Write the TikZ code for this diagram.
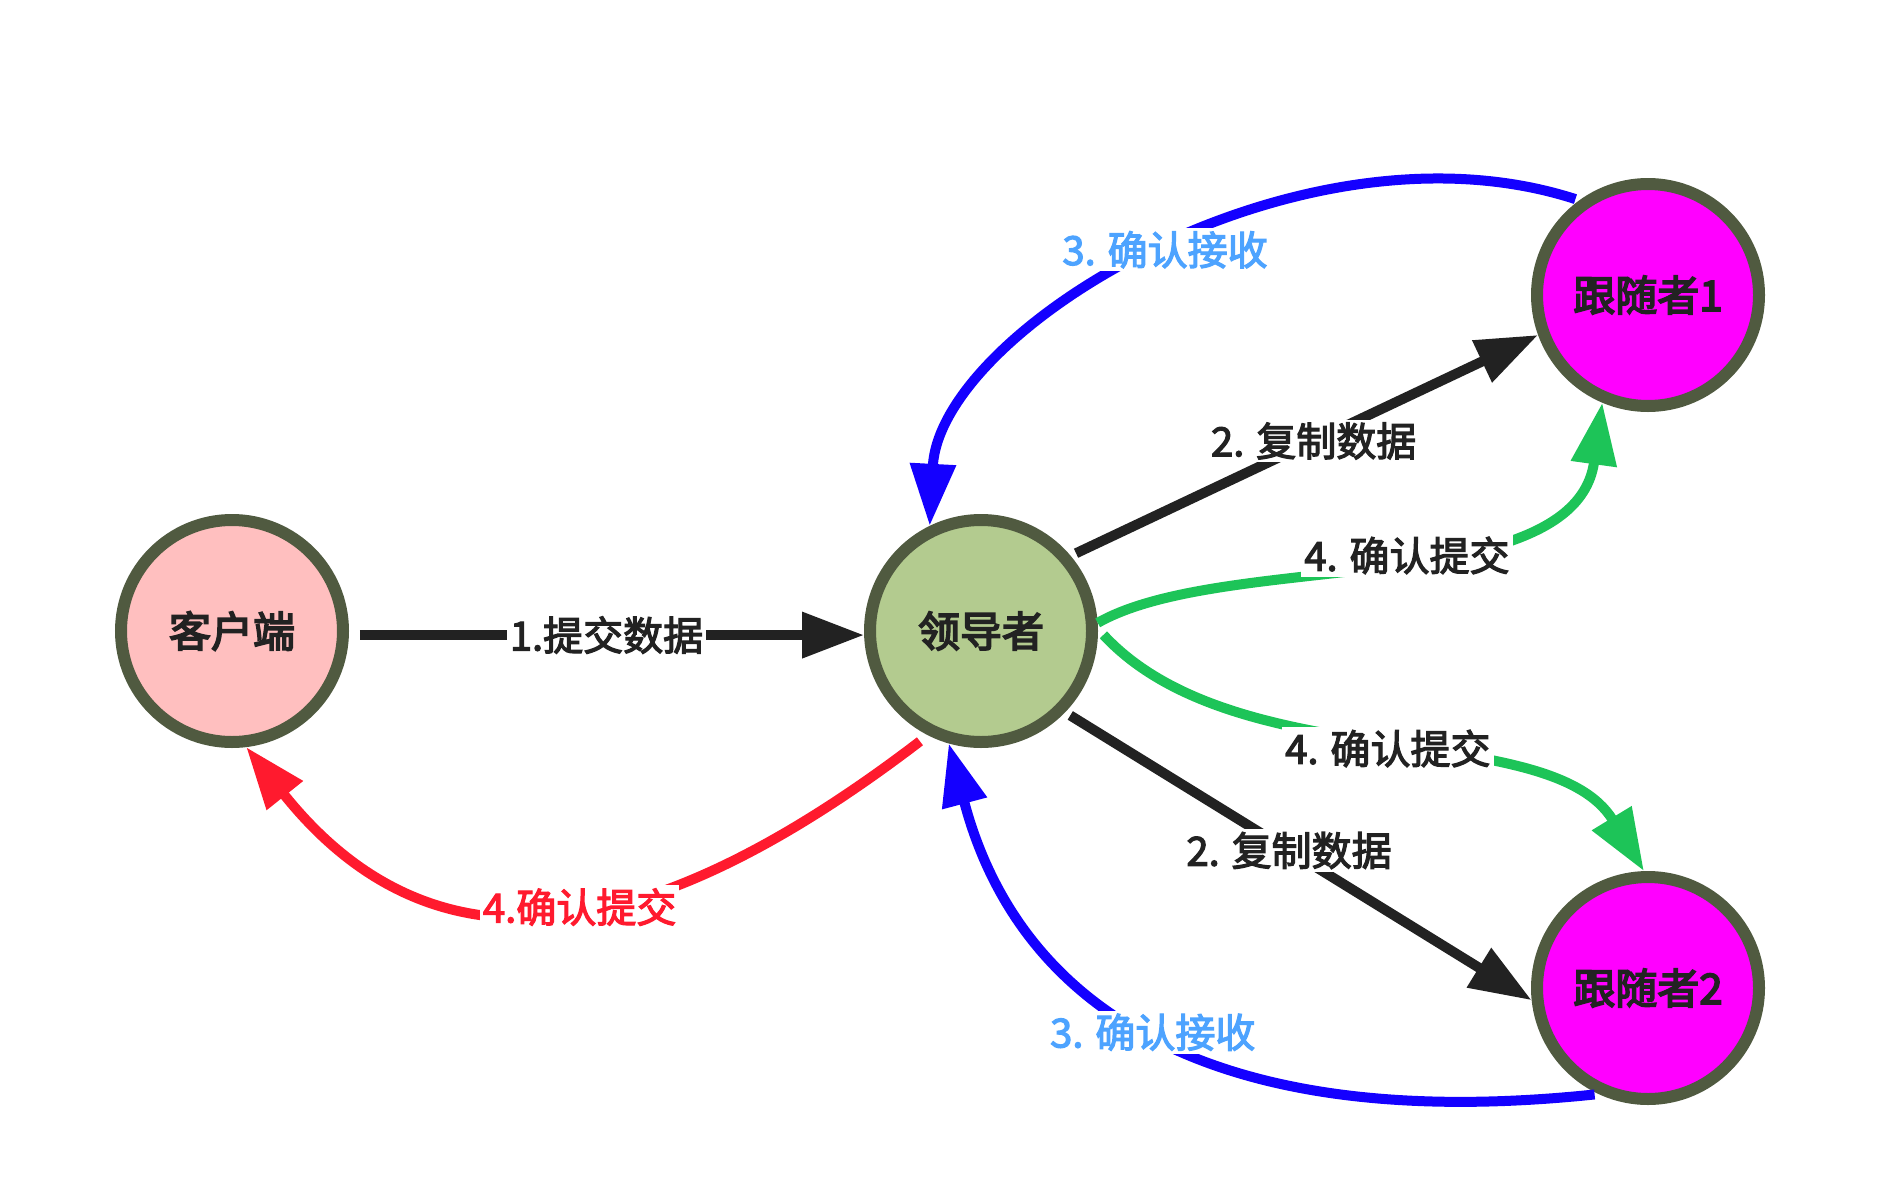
\documentclass[tikz,border=0pt]{standalone}
\usepackage{fontspec}
\setmainfont{Noto Sans CJK SC}
\newfontfamily\medfont[FakeBold=3]{Noto Sans CJK SC}
\newfontfamily\boldfont[FakeBold=4]{Noto Sans CJK SC}
\usetikzlibrary{arrows.meta}
\definecolor{ring}{HTML}{505A40}
\definecolor{cpink}{HTML}{FFBFBF}
\definecolor{cgreen}{HTML}{B3CB8F}
\definecolor{cmag}{HTML}{FF00FF}
\definecolor{ink}{HTML}{222222}
\definecolor{lblue}{HTML}{1400FF}
\definecolor{tblue}{HTML}{4DA3FF}
\definecolor{lred}{HTML}{FF1A2E}
\definecolor{lgreen}{HTML}{1DC458}
\begin{document}
\begin{tikzpicture}[x=0.5pt,y=-0.5pt,
  role/.style={circle,draw=ring,line width=6pt,minimum size=111pt,inner sep=0pt,
    font=\fontsize{21}{21}\selectfont\boldfont,text=ink},
  conn/.style={line width=5pt,-{Triangle[length=31pt,width=22pt]}},
  lab/.style={fill=white,inner sep=1.5pt,font=\fontsize{20}{20}\selectfont\medfont},
]
\useasboundingbox (0,0) rectangle (1900,1194);
\node[role,fill=cpink] (client) at (232,631) {客户端};
\node[role,fill=cgreen] (leader) at (981,631) {领导者};
\node[role,fill=cmag] (f1) at (1648,295) {跟随者1};
\node[role,fill=cmag] (f2) at (1648,988) {跟随者2};

\draw[conn,ink,shorten <=5.5pt] (client.-2) -- node[lab,text=ink]{1.提交数据} (leader.182);
\draw[conn,ink,shorten <=3pt] (leader.40) -- node[lab,text=ink,pos=0.52]{2. 复制数据} (f1.200);
\draw[conn,ink,shorten <=3pt] (leader.-44) -- node[lab,text=ink,pos=0.48]{2. 复制数据} (f2.186);
\draw[conn,lgreen] (leader.4) .. controls (1226,550) and (1575,600) .. node[lab,text=ink,pos=0.53]{4. 确认提交} (f1.247);
\draw[conn,lgreen,shorten <=4pt] (leader.1) .. controls (1237,779) and (1550,717) .. node[lab,text=ink]{4. 确认提交} (f2.92);
\draw[conn,lblue,shorten <=2pt] (f1.126) .. controls (1300,110) and (940,330) .. node[lab,text=tblue,pos=0.485]{3. 确认接收} (leader.116);
\draw[conn,lblue,shorten <=2pt] (f2.245) .. controls (1207,1135) and (1018,1005) .. node[lab,text=tblue]{3. 确认接收} (leader.254);
\draw[conn,lred,shorten <=5pt] (leader.243) .. controls (660,940) and (440,990) .. node[lab,text=lred,pos=0.47]{4.确认提交} (client.-83);
\end{tikzpicture}
\end{document}
